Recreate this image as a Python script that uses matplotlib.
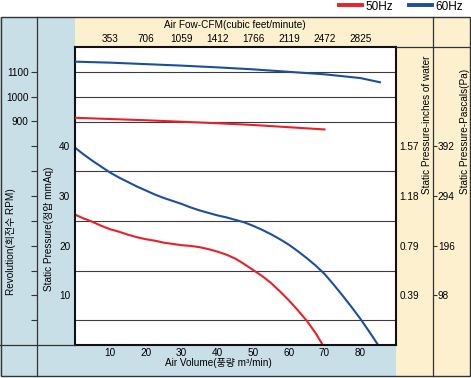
import numpy as np
import matplotlib
matplotlib.use('Agg')
import matplotlib.pyplot as plt
from matplotlib.patches import Rectangle
from matplotlib.lines import Line2D

plt.rcParams['font.family'] = ['Liberation Sans', 'Noto Sans CJK KR']
plt.rcParams['font.size'] = 7.2

# air volume (m3/min) vs static pressure (mmAq)
q50 = [0, 2.5, 5, 7.5, 10, 12.5, 15, 17.5, 20, 22.5, 25, 27.5, 30, 32.5, 35, 37.5,
       40, 42.5, 45, 47.5, 50, 52.5, 55, 57.5, 60, 62.5, 65, 67.5, 69.5]
p50 = [26.3, 25.5, 24.8, 24.0, 23.3, 22.8, 22.2, 21.7, 21.3, 21.0, 20.6, 20.35, 20.1, 19.95, 19.7, 19.3,
       18.8, 18.2, 17.4, 16.3, 15.1, 13.9, 12.5, 10.8, 9.0, 7.0, 4.9, 2.4, 0]
q60 = [0, 2.5, 5, 7.5, 10, 12.5, 15, 17.5, 20, 22.5, 25, 27.5, 30, 32.5, 35, 37.5, 40, 42.5,
       45, 47.5, 50, 52.5, 55, 57.5, 60, 62.5, 65, 67.5, 70, 72.5, 75, 77.5, 80, 82.5, 85]
p60 = [39.8, 38.4, 37.1, 35.9, 34.7, 33.7, 32.8, 31.9, 31.1, 30.3, 29.6, 29.0, 28.4, 27.7, 27.1, 26.6, 26.1, 25.7,
       25.2, 24.7, 24.0, 23.2, 22.3, 21.3, 20.2, 18.9, 17.5, 16.0, 14.3, 12.2, 10.0, 7.7, 5.3, 2.7, 0]

# revolution (RPM)
qr50 = [0, 10, 20, 30, 40, 50, 60, 70]
rpm50 = [915, 910, 905, 899, 893, 886, 877, 868]
qr60 = [0, 10, 20, 30, 40, 50, 60, 70, 80, 85.5]
rpm60 = [1141, 1137, 1131, 1125, 1118, 1110, 1100, 1090, 1075, 1058]

vol_ticks = [10, 20, 30, 40, 50, 60, 70, 80]
cfm_labels = ['353', '706', '1059', '1412', '1766', '2119', '2472', '2825']
mmaq_ticks = [10, 20, 30, 40]
inch_labels = ['0.39', '0.79', '1.18', '1.57']
pa_labels = ['98', '196', '294', '392']
rpm_ticks = list(range(100, 1200, 100))
rpm_shown = [900, 1000, 1100]

RED = '#e8202a'
BLUE = '#1b4f9e'
BLUE_BG = '#c9dfe8'
BEIGE = '#fdf0cf'
LINE = '#333333'

W, H = 471, 378
fig = plt.figure(figsize=(W / 100, H / 100), dpi=100)


def fx(x):
    return x / W


def fy(y):
    return 1 - y / H


def rect(x0, y0, x1, y1, color):
    fig.add_artist(Rectangle((fx(x0), fy(y1)), fx(x1) - fx(x0), fy(y0) - fy(y1),
                             transform=fig.transFigure, facecolor=color, edgecolor='none', zorder=0))


def hline(x0, x1, y, lw=0.9):
    fig.add_artist(Line2D([fx(x0), fx(x1)], [fy(y), fy(y)], transform=fig.transFigure,
                          color=LINE, lw=lw, zorder=1))


def vline(x, y0, y1, lw=0.9):
    fig.add_artist(Line2D([fx(x), fx(x)], [fy(y0), fy(y1)], transform=fig.transFigure,
                          color=LINE, lw=lw, zorder=1))


# background panels
rect(0, 17, 74.5, 376, BLUE_BG)
rect(74.5, 345, 396, 376, BLUE_BG)
rect(74.5, 17, 471, 47, BEIGE)
rect(396, 47, 471, 376, BEIGE)
fig.add_artist(Rectangle((fx(0.5), fy(375.5)), fx(470) - fx(0.5), fy(17) - fy(375.5),
                         transform=fig.transFigure, facecolor='none', edgecolor=LINE, lw=1, zorder=1))
vline(37, 17, 375.5)
vline(433, 17, 375.5)
hline(0, 74.5, 345)
hline(396, 470, 47)

L, B = fx(74.5), fy(345)
AW, AH = fx(396) - fx(74.5), fy(47) - fy(345)

ax = fig.add_axes([L, B, AW, AH])
ax.set_xlim(0, 90)
ax.set_ylim(0, 60)
ax.set_xticks(vol_ticks)
ax.set_yticks(mmaq_ticks)
ax.set_xticks(np.arange(10, 90, 10), minor=True)
ax.set_yticks(np.arange(5, 60, 5), minor=True)
ax.grid(which='minor', color='#3c3c3c', lw=0.8)
ax.tick_params(which='both', length=0)
ax.tick_params(axis='x', pad=2)
ax.tick_params(axis='y', pad=3)
for s in ax.spines.values():
    s.set_linewidth(1.5)
    s.set_color('#111111')

ax.plot(q50, p50, color=RED, lw=1.5)
ax.plot(q60, p60, color=BLUE, lw=1.5)

ax.set_xlabel('Air Volume(풍량 m³/min)')
ax.xaxis.set_label_coords((218 - 74.5) / 321.5, -12.5 / 298)

top = ax.secondary_xaxis('top')
top.set_xticks(vol_ticks, labels=cfm_labels)
top.tick_params(length=0, pad=2.5)
top.spines['top'].set_visible(False)
top.set_xlabel('Air Fow-CFM(cubic feet/minute)', labelpad=4)

ax2 = ax.twinx()
ax2.set_ylim(0, 1200)
ax2.set_axis_off()
ax2.plot(qr50, rpm50, color=RED, lw=1.5)
ax2.plot(qr60, rpm60, color=BLUE, lw=1.5)

# RPM scale on the column line
axr = fig.add_axes([fx(37), B, 1e-4, AH])
axr.set_ylim(0, 1200)
axr.set_yticks(rpm_ticks, labels=[str(r) if r in rpm_shown else '' for r in rpm_ticks])
axr.tick_params(axis='y', length=4, width=0.8, color=LINE, pad=2)
axr.xaxis.set_visible(False)
for s in axr.spines.values():
    s.set_visible(False)
axr.patch.set_alpha(0)

# inches of water
axi = fig.add_axes([fx(396), B, 1e-4, AH])
axi.set_ylim(0, 60)
axi.yaxis.tick_right()
axi.set_yticks(mmaq_ticks, labels=inch_labels)
axi.tick_params(axis='y', length=0, pad=2.5)
axi.xaxis.set_visible(False)
for s in axi.spines.values():
    s.set_visible(False)
axi.patch.set_alpha(0)

# pascals
axp = fig.add_axes([fx(433), B, 1e-4, AH])
axp.set_ylim(0, 60)
axp.yaxis.tick_right()
axp.set_yticks(mmaq_ticks, labels=pa_labels)
axp.tick_params(axis='y', length=3, width=0.8, color=LINE, pad=0.5)
axp.xaxis.set_visible(False)
for s in axp.spines.values():
    s.set_visible(False)
axp.patch.set_alpha(0)

fig.text(fx(11), fy(242), 'Revolution(회전수 RPM)', rotation=90, ha='center', va='center')
fig.text(fx(49), fy(229), 'Static Pressure(정압 mmAq)', rotation=90, ha='center', va='center')
fig.text(fx(427), fy(194), 'Static Pressure-inches of water', rotation=90, ha='center', va='bottom')
fig.text(fx(465), fy(194), 'Static Pressure-Pascals(Pa)', rotation=90, ha='center', va='bottom')

handles = [Line2D([], [], color=RED, lw=2.8), Line2D([], [], color=BLUE, lw=2.8)]
fig.legend(handles, ['50Hz', '60Hz'], loc='upper right', bbox_to_anchor=(fx(463), fy(0.5)),
           ncol=2, frameon=False, fontsize=8.5, handlelength=1.95, handletextpad=0.25,
           columnspacing=1.4, borderpad=0, borderaxespad=0)

fig.savefig('out.png', dpi=100)
